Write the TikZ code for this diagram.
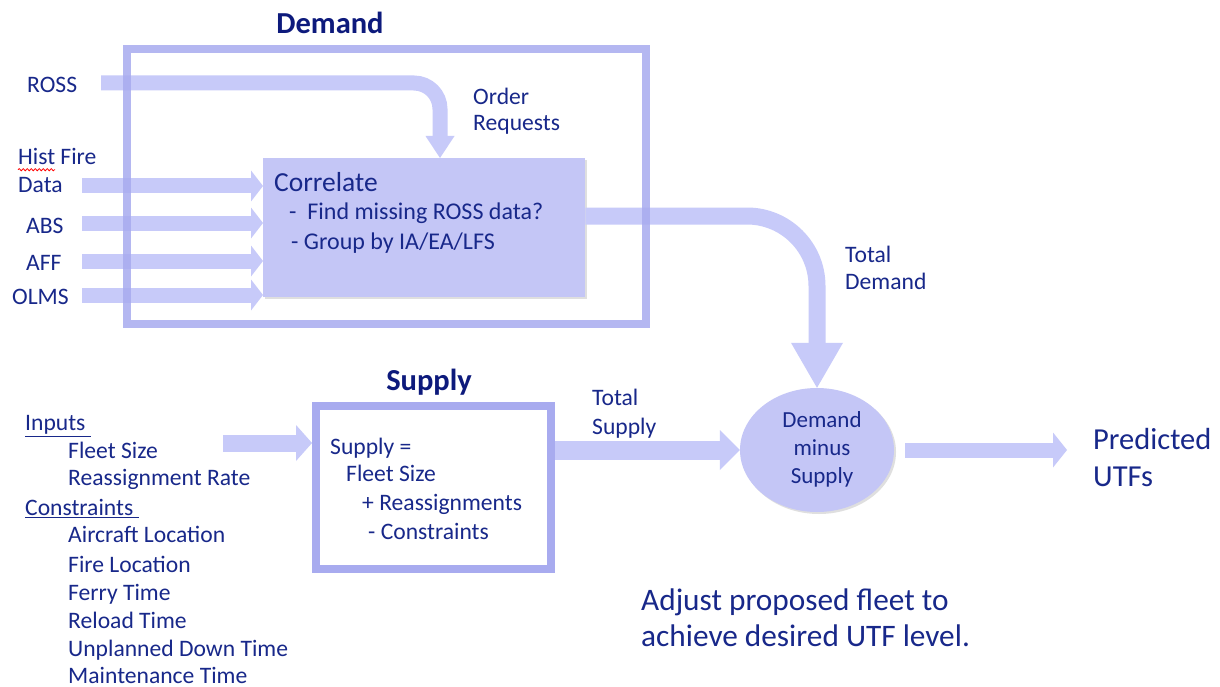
\documentclass[tikz,border=0pt]{standalone}
\usepackage{fontspec}
\setmainfont{Carlito}
\usetikzlibrary{arrows.meta,shadows,shapes.geometric,decorations.pathmorphing,calc}
\definecolor{arrowc}{HTML}{C7CAF9}
\definecolor{boxc}{HTML}{A8ABEF}
\definecolor{fillc}{HTML}{C4C6F6}
\definecolor{txt}{HTML}{18288A}
\definecolor{ttl}{HTML}{0D1A7C}
\begin{document}
\begin{tikzpicture}[x=1pt,y=-1pt,
  lbl/.style={anchor=west,inner sep=0pt,text=txt,font=\fontsize{23.6}{27}\selectfont,text height=15pt,text depth=0pt},
  corr/.style={lbl,font=\fontsize{24}{28}\selectfont},
  big/.style={lbl,font=\fontsize{30.5}{34}\selectfont,text height=19pt},
  huge/.style={lbl,font=\fontsize{31.3}{35}\selectfont,text height=20pt},
  titl/.style={inner sep=0pt,text=ttl,font=\fontsize{30.5}{34}\selectfont\bfseries},
  shade/.style={drop shadow={opacity=0.25,shadow xshift=2pt,shadow yshift=-2pt}},
  inarr/.style={draw=arrowc,line width=15pt,-{Triangle[width=31pt,length=12pt,line width=0pt]}},
  rossarr/.style={draw=arrowc,line width=15pt,rounded corners=26pt,-{Triangle[width=29pt,length=22pt,line width=0pt]}},
  tdarr/.style={draw=arrowc,line width=17pt,rounded corners=70pt,-{Triangle[width=52pt,length=45pt,line width=0pt]}},
  tsarr/.style={draw=arrowc,line width=19pt,-{Triangle[width=40pt,length=20pt,line width=0pt]}},
  outarr/.style={draw=arrowc,line width=15pt,-{Triangle[width=35pt,length=14pt,line width=0pt]}},
  suparr/.style={draw=arrowc,line width=17pt,-{Triangle[width=36pt,length=16pt,line width=0pt]}}
]
\useasboundingbox[fill=white] (0,0) rectangle (1220,687);

% titles
\node[titl] (dtitle) at (330,23) {Demand};
\node[titl] (stitle) at (429,382) {Supply};

% demand inputs
\node[lbl] (ross) at (27,85) {ROSS};
\node[lbl] (hist) at (18,157) {Hist Fire};
\node[lbl] (data) at (18,185) {Data};
\node[lbl] (abs) at (26,226) {ABS};
\node[lbl] (aff) at (26,263) {AFF};
\node[lbl] (olms) at (12,297) {OLMS};
\draw[red,line width=0.8pt,decorate,decoration={snake,segment length=4pt,amplitude=1.1pt}]
  ($(hist.south west)+(0,5)$) -- ++(37,0);

\node[lbl] (order1) at (473,97) {Order};
\node[lbl] (order2) at (473,123) {Requests};

% correlate box
\node[fill=fillc,shade,minimum width=322pt,minimum height=139pt,inner sep=0pt,anchor=north west] (correlate) at (263,158) {};
\node[lbl,font=\fontsize{27.5}{31}\selectfont,text height=17pt] (correl) at (274,183) {Correlate};
\node[corr] (find) at (289,212) {-~~Find missing ROSS data?};
\node[corr] (group) at (291,242) {- Group by IA/EA/LFS};

% difference ellipse
\node[ellipse,fill=fillc,shade,minimum width=154pt,minimum height=124pt,inner sep=0pt] (diff) at (817,450) {};
\node[inner sep=0pt,text=txt,font=\fontsize{23}{28}\selectfont,align=center] (difftext) at (822,449) {Demand\\minus\\Supply};

% supply box
\node[draw=boxc,line width=8pt,fill=white,shade,minimum width=235pt,minimum height=163pt,inner sep=0pt] (supply) at (433.5,487.5) {};
\node[lbl] (s1) at (330,447) {Supply =};
\node[lbl] (s2) at (346,474) {Fleet Size};
\node[lbl] (s3) at (362,503) {+ Reassignments};
\node[lbl] (s4) at (368,532) {- Constraints};

% left list
\node[lbl] (inputs) at (25,423) {\underline{Inputs\ }};
\node[lbl] (fleet) at (68,451) {Fleet Size};
\node[lbl] (reass) at (68,478) {Reassignment Rate};
\node[lbl] (constr) at (25,508) {\underline{Constraints\ }};
\node[lbl] (acloc) at (68,535) {Aircraft Location};
\node[lbl] (fireloc) at (68,565) {Fire Location};
\node[lbl] (ferry) at (68,593) {Ferry Time};
\node[lbl] (reload) at (68,621) {Reload Time};
\node[lbl] (unpl) at (68,649) {Unplanned Down Time};
\node[lbl] (maint) at (68,676) {Maintenance Time};

% other labels
\node[lbl] (td1) at (845,255) {Total};
\node[lbl] (td2) at (845,282) {Demand};
\node[lbl] (ts1) at (592,398) {Total};
\node[lbl] (ts2) at (592,427) {Supply};
\node[big] (pred1) at (1093,440) {Predicted};
\node[big] (pred2) at (1093,477) {UTFs};
\node[huge] (adj1) at (641,600) {Adjust proposed fleet to};
\node[huge] (adj2) at (641,636) {achieve desired UTF level.};

% arrows
\coordinate (rossA) at (101,83);
\coordinate (rossC) at (440,83);
\draw[rossarr] (rossA) -- (rossC) -- (rossC |- correlate.north);

\coordinate (hIn) at (82,186);
\coordinate (aIn) at (82,223);
\coordinate (fIn) at (82,261);
\coordinate (oIn) at (82,295);
\draw[inarr] (hIn) -- (hIn -| correlate.west);
\draw[inarr] (aIn) -- (aIn -| correlate.west);
\draw[inarr] (fIn) -- (fIn -| correlate.west);
\draw[inarr] (oIn) -- (oIn -| correlate.west);

\coordinate (tdC) at (817,216);
\draw[tdarr] (correlate.east |- tdC) -- (tdC) -- (diff.north);

\coordinate (supIn) at (223,443);
\draw[suparr] (supIn) -- (supIn -| supply.west);

\draw[tsarr] (diff.west -| supply.east) -- (diff.west);

\draw[outarr,shorten <=11pt,shorten >=26pt] (diff.east) -- (diff.east -| pred1.west);

% demand frame on top
\node[draw=boxc,draw opacity=0.85,line width=8pt,minimum width=519pt,minimum height=275pt,inner sep=0pt] (demandbox) at (386.5,186.5) {};
\end{tikzpicture}
\end{document}
